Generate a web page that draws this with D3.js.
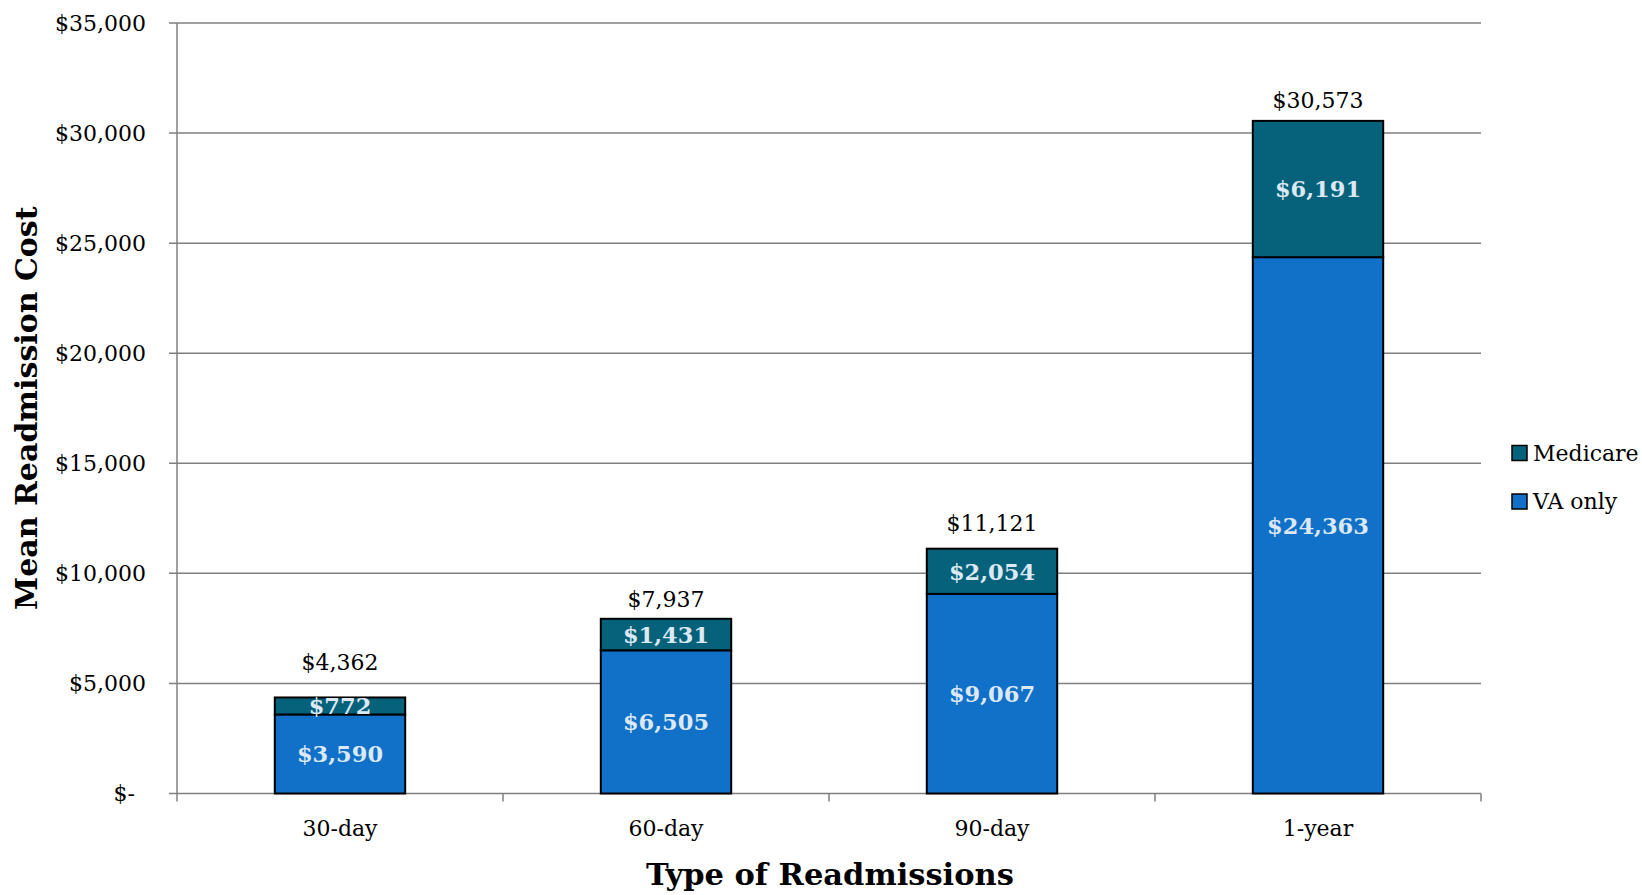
<!DOCTYPE html>
<html>
<head>
<meta charset="utf-8">
<script src="https://cdn.jsdelivr.net/npm/d3@7"></script>
<style>
  html, body { margin: 0; padding: 0; background: #fff; }
  svg { display: block; }
  text { font-family: "DejaVu Serif", "Liberation Serif", serif; }
</style>
</head>
<body>
<svg id="chart" width="1642" height="895"></svg>
<script>
const categories = ["30-day", "60-day", "90-day", "1-year"];
const vaOnly = [3590, 6505, 9067, 24363];
const medicare = [772, 1431, 2054, 6191];
const totals = [4362, 7937, 11121, 30573];
const yTicks = [0, 5000, 10000, 15000, 20000, 25000, 30000, 35000];
const seriesNames = ["VA only", "Medicare"];
const seriesColors = ["#1170c8", "#05627a"];

const svg = d3.select("#chart");
const m = { left: 177, right: 1481, top: 23, bottom: 793.5 };

const x = d3.scaleBand().domain(categories).range([m.left, m.right]).padding(0);
const y = d3.scaleLinear().domain([0, 35000]).range([m.bottom, m.top]);
const fmt = d3.format(",");
const money = v => v === 0 ? "$-" : "$" + fmt(v);

const gridColor = "#7f7f7f";
// vertical gap (px) between each bar top and its total label, as placed in the source
const totalGap = [27, 12, 18, 12];

// gridlines
svg.append("g").selectAll("line").data(yTicks).join("line")
  .attr("x1", m.left - 8).attr("x2", m.right)
  .attr("y1", d => y(d)).attr("y2", d => y(d))
  .attr("stroke", gridColor).attr("stroke-width", 1.5);

// y axis line
svg.append("line")
  .attr("x1", m.left).attr("x2", m.left)
  .attr("y1", m.top).attr("y2", m.bottom + 8)
  .attr("stroke", gridColor).attr("stroke-width", 1.5);

// x tick marks at category boundaries
const bounds = categories.map(c => x(c) + x.bandwidth());
svg.append("g").selectAll("line").data(bounds).join("line")
  .attr("x1", d => d).attr("x2", d => d)
  .attr("y1", m.bottom).attr("y2", m.bottom + 8)
  .attr("stroke", gridColor).attr("stroke-width", 1.5);

// y tick labels
svg.append("g").selectAll("text").data(yTicks).join("text")
  .attr("x", d => d === 0 ? 135 : 146)
  .attr("y", d => y(d))
  .attr("dy", "0.35em")
  .attr("text-anchor", "end")
  .attr("font-size", 22)
  .attr("fill", "#000")
  .text(money);

// x labels
svg.append("g").selectAll("text").data(categories).join("text")
  .attr("x", d => x(d) + x.bandwidth() / 2)
  .attr("y", 836)
  .attr("text-anchor", "middle")
  .attr("font-size", 22)
  .text(d => d);

// stacked bars
const rows = categories.map((c, i) => ({ cat: c, "VA only": vaOnly[i], "Medicare": medicare[i] }));
const stack = d3.stack().keys(seriesNames)(rows);
const barW = x.bandwidth() * 0.4;

const layers = svg.append("g").selectAll("g").data(stack).join("g")
  .attr("fill", (d, i) => seriesColors[i]);

layers.selectAll("rect").data(d => d).join("rect")
  .attr("x", d => x(d.data.cat) + (x.bandwidth() - barW) / 2)
  .attr("width", barW)
  .attr("y", d => y(d[1]))
  .attr("height", d => y(d[0]) - y(d[1]))
  .attr("stroke", "#000").attr("stroke-width", 2);

// segment labels
layers.selectAll("text").data((d) => d.map(v => ({ v, key: d.key }))).join("text")
  .attr("x", d => x(d.v.data.cat) + x.bandwidth() / 2)
  .attr("y", d => (y(d.v[0]) + y(d.v[1])) / 2)
  .attr("dy", "0.37em")
  .attr("text-anchor", "middle")
  .attr("font-size", 22.5)
  .attr("font-weight", "bold")
  .attr("fill", "#dce8f4")
  .text(d => money(d.v.data[d.key]));

// total labels
svg.append("g").selectAll("text").data(totals).join("text")
  .attr("x", (d, i) => x(categories[i]) + x.bandwidth() / 2)
  .attr("y", (d, i) => y(d) - totalGap[i])
  .attr("text-anchor", "middle")
  .attr("font-size", 22)
  .text(d => money(d));

// axis titles
svg.append("text")
  .attr("x", 830)
  .attr("y", 885)
  .attr("text-anchor", "middle")
  .attr("font-size", 30.5)
  .attr("font-weight", "bold")
  .text("Type of Readmissions");

svg.append("text")
  .attr("transform", `translate(37, ${(m.top + m.bottom) / 2}) rotate(-90)`)
  .attr("text-anchor", "middle")
  .attr("font-size", 30)
  .attr("font-weight", "bold")
  .text("Mean Readmission Cost");

// legend
const legendItems = [
  { name: "Medicare", color: seriesColors[1] },
  { name: "VA only", color: seriesColors[0] }
];
const lg = svg.append("g").selectAll("g").data(legendItems).join("g")
  .attr("transform", (d, i) => `translate(1512, ${453 + i * 48.5})`);
lg.append("rect").attr("x", 0).attr("y", -7.5).attr("width", 15).attr("height", 15)
  .attr("fill", d => d.color).attr("stroke", "#000").attr("stroke-width", 1.5);
lg.append("text").attr("x", 21).attr("dy", "0.35em").attr("font-size", 22).text(d => d.name);
</script>
</body>
</html>
